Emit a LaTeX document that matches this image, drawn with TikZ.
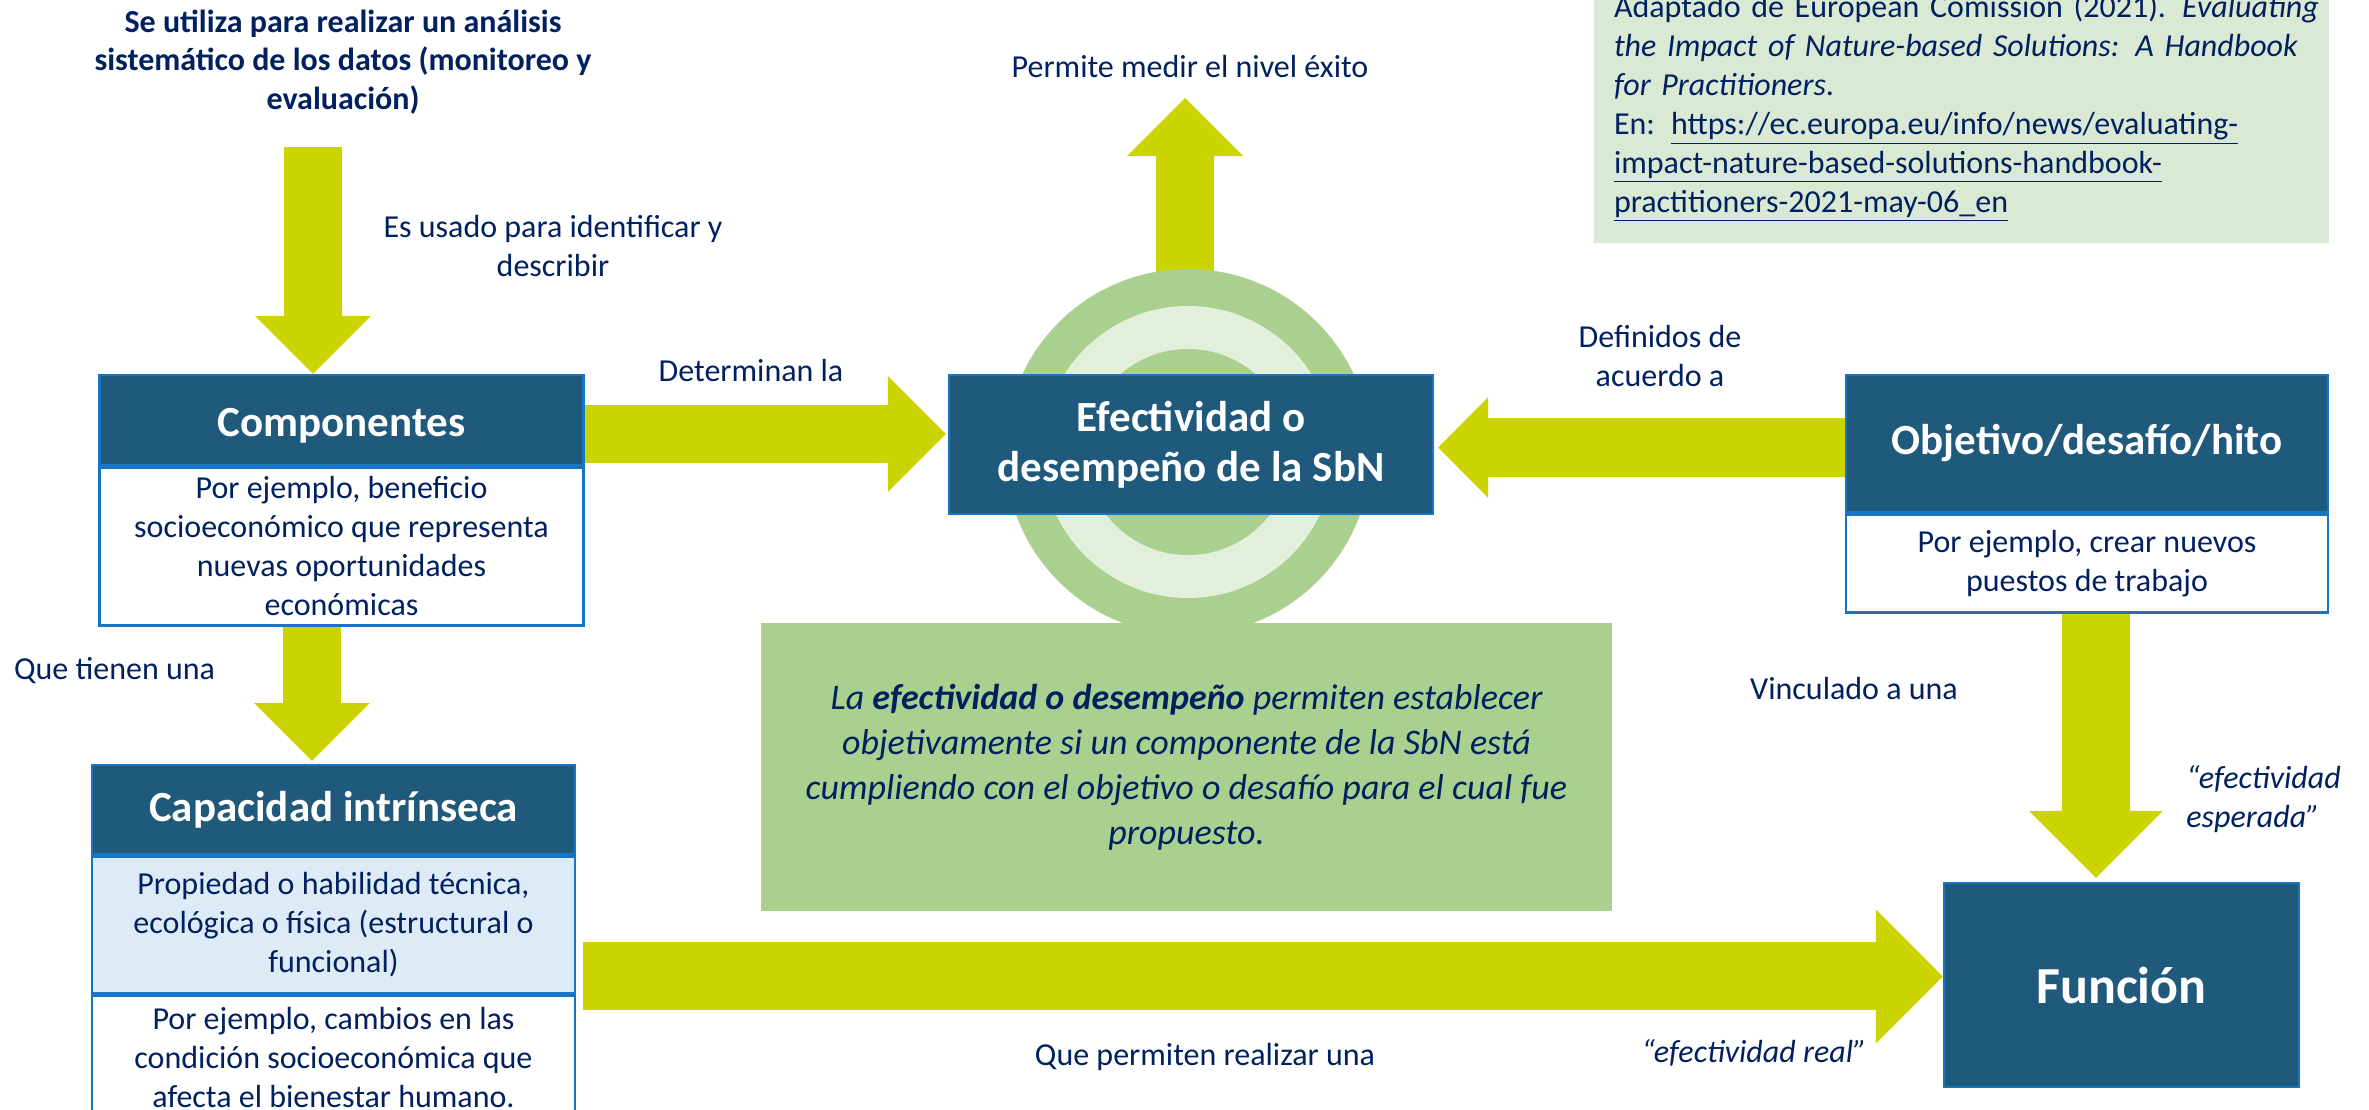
\documentclass[tikz,border=0pt]{standalone}
\usepackage{fontspec}
\setmainfont{Carlito}
\usetikzlibrary{arrows.meta,positioning,backgrounds}

\definecolor{navy}{RGB}{0,32,96}
\definecolor{headblue}{RGB}{31,89,124}
\definecolor{edgeblue}{RGB}{24,117,196}
\definecolor{lime}{RGB}{204,212,0}
\definecolor{leafgreen}{RGB}{169,208,142}
\definecolor{palegreen}{RGB}{226,239,218}
\definecolor{refgreen}{RGB}{218,233,212}
\definecolor{paleblue}{RGB}{221,235,247}

\begin{document}
\begin{tikzpicture}[
	x=0.5pt, y=-0.5pt,
	font=\fontsize{16}{19.5}\selectfont,
	every node/.style={text=navy},
	lbl/.style={inner sep=0pt, align=center},
	head/.style={draw=edgeblue, line width=1.2pt, fill=headblue, text=white, inner sep=0pt,
		minimum width=242pt, align=center, font=\fontsize{21.5}{25}\selectfont\bfseries},
	body/.style={draw=edgeblue, line width=1.2pt, fill=white, inner sep=0pt,
		minimum width=242pt, align=center},
	bodyblue/.style={body, fill=paleblue},
	descbox/.style={fill=leafgreen, minimum width=425.5pt, minimum height=144pt, inner sep=0pt,
		align=center, font=\fontsize{18}{22.5}\selectfont\itshape},
	refbox/.style={fill=refgreen, text width=347.5pt, inner xsep=10pt, minimum height=135pt,
		align=left},
	blk/.style={draw=lime, line width=29pt, -{Triangle[width=58pt,length=29pt,line width=0pt]}},
	blkobj/.style={draw=lime, line width=29.5pt, -{Triangle[width=50.5pt,length=25pt,line width=0pt]}},
	blkbig/.style={draw=lime, line width=34pt, -{Triangle[width=67pt,length=33.5pt,line width=0pt]}},
	]
\clip (0,0) rectangle (2369,1109);

% reference note
\node[refbox] (ref) at (1961.5,108) {%
	\makebox[347.5pt][s]{Adaptado de European Comission (2021). \textit{Evaluating}}\\
	\makebox[347.5pt][s]{\textit{the Impact of Nature-based Solutions: A Handbook}}\\
	\textit{for Practitioners}.\\
	En: \underline{https://ec.europa.eu/info/news/evaluating-}\\
	\underline{impact-nature-based-solutions-handbook-}\\
	\underline{practitioners-2021-may-06\_en}};

% boxes
\node[head, minimum height=45pt, text height=21pt, text depth=4.5pt] (comphead) at (341.5,420) {Componentes};
\node[body, minimum height=79pt, below=0pt of comphead] (compbody)
	{Por ejemplo, beneficio\\ socioeconómico que representa\\ nuevas oportunidades\\ económicas};

\node[head, minimum width=241.5pt, minimum height=44.5pt] (caphead) at (333.5,809.5) {Capacidad intrínseca};
\node[bodyblue, minimum width=241.5pt, minimum height=68.5pt, below=0pt of caphead] (capprop)
	{Propiedad o habilidad técnica,\\ ecológica o física (estructural o\\ funcional)};
\node[body, minimum width=241.5pt, minimum height=62pt, below=0pt of capprop] (capej)
	{Por ejemplo, cambios en las\\ condición socioeconómica que\\ afecta el bienestar humano.};

\node[head, minimum height=69.5pt] (efec) at (1191,444.5) {Efectividad o\\ desempeño de la SbN};

\node[head, minimum width=241pt, minimum height=68.5pt] (objhead) at (2087,443.5) {Objetivo/desafío/hito};
\node[body, minimum width=241pt, minimum height=49pt, below=0pt of objhead] (objbody)
	{Por ejemplo, crear nuevos\\ puestos de trabajo};

\node[head, minimum width=177.5pt, minimum height=102pt, font=\fontsize{26}{30}\selectfont\bfseries]
	(func) at (2121.5,985) {Función};

% target behind the central box
\coordinate (tipexito) at (1185,98);
\begin{scope}[on background layer]
	\draw[blk] (tipexito |- efec.north) -- (tipexito);
	\fill[leafgreen] (1188,452) circle[radius=91.5pt];
	\fill[palegreen] (1188,452) circle[radius=73pt];
	\fill[leafgreen] (1188,452) circle[radius=51.5pt];
\end{scope}

\node[descbox] (desc) at (1186.5,767)
	{La \textbf{efectividad o desempeño} permiten establecer\\
	objetivamente si un componente de la SbN está\\
	cumpliendo con el objetivo o desafío para el cual fue\\
	propuesto.};

% block arrows
\coordinate (a1) at (313,147);
\draw[blk] (a1) -- (a1 |- comphead.north);
\draw[blk, shorten >=1.5pt] ([xshift=-14.75pt]compbody.south) -- ([xshift=-14.75pt]compbody.south |- caphead.north);
\draw[blk, shorten >=1pt] ([yshift=-7pt]comphead.east) -- ([yshift=-7pt]comphead.east -| efec.west);
\draw[blkobj, shorten >=2pt] ([yshift=-2pt]objhead.west) -- ([yshift=-2pt]objhead.west -| efec.east);
\draw[blkbig, shorten >=2pt] ([xshift=4.5pt]objbody.south) -- ([xshift=4.5pt]objbody.south |- func.north);
\coordinate (bigs) at ([shift={(3.5pt,-25.75pt)}]capprop.east);
\draw[blkbig] (bigs) -- (bigs -| func.west);

% labels
\node[lbl, font=\fontsize{16}{19.25}\selectfont\bfseries] (lsistem) at (343,62)
	{Se utiliza para realizar un análisis\\ sistemático de los datos (monitoreo y\\ evaluación)};
\node[lbl] (lusado) at (553,246) {Es usado para identificar y\\ describir};
\node[lbl] (ldet) at (751,370) {Determinan la};
\node[lbl] (ltienen) at (114.5,671) {Que tienen una};
\node[lbl] (lexito) at (1190,67) {Permite medir el nivel éxito};
\node[lbl] (ldef) at (1660,356) {Definidos de\\ acuerdo a};
\node[lbl] (lvinc) at (1854,688) {Vinculado a una};
\node[lbl, align=left, anchor=west, font=\fontsize{16}{19.25}\selectfont\itshape] (lesp) at (2186,799)
	{“efectividad\\ esperada”};
\node[lbl, font=\fontsize{16}{19.25}\selectfont\itshape] (lreal) at (1754,1053) {“efectividad real”};
\node[lbl] (lperm) at (1205,1057) {Que permiten realizar una};
\end{tikzpicture}
\end{document}
